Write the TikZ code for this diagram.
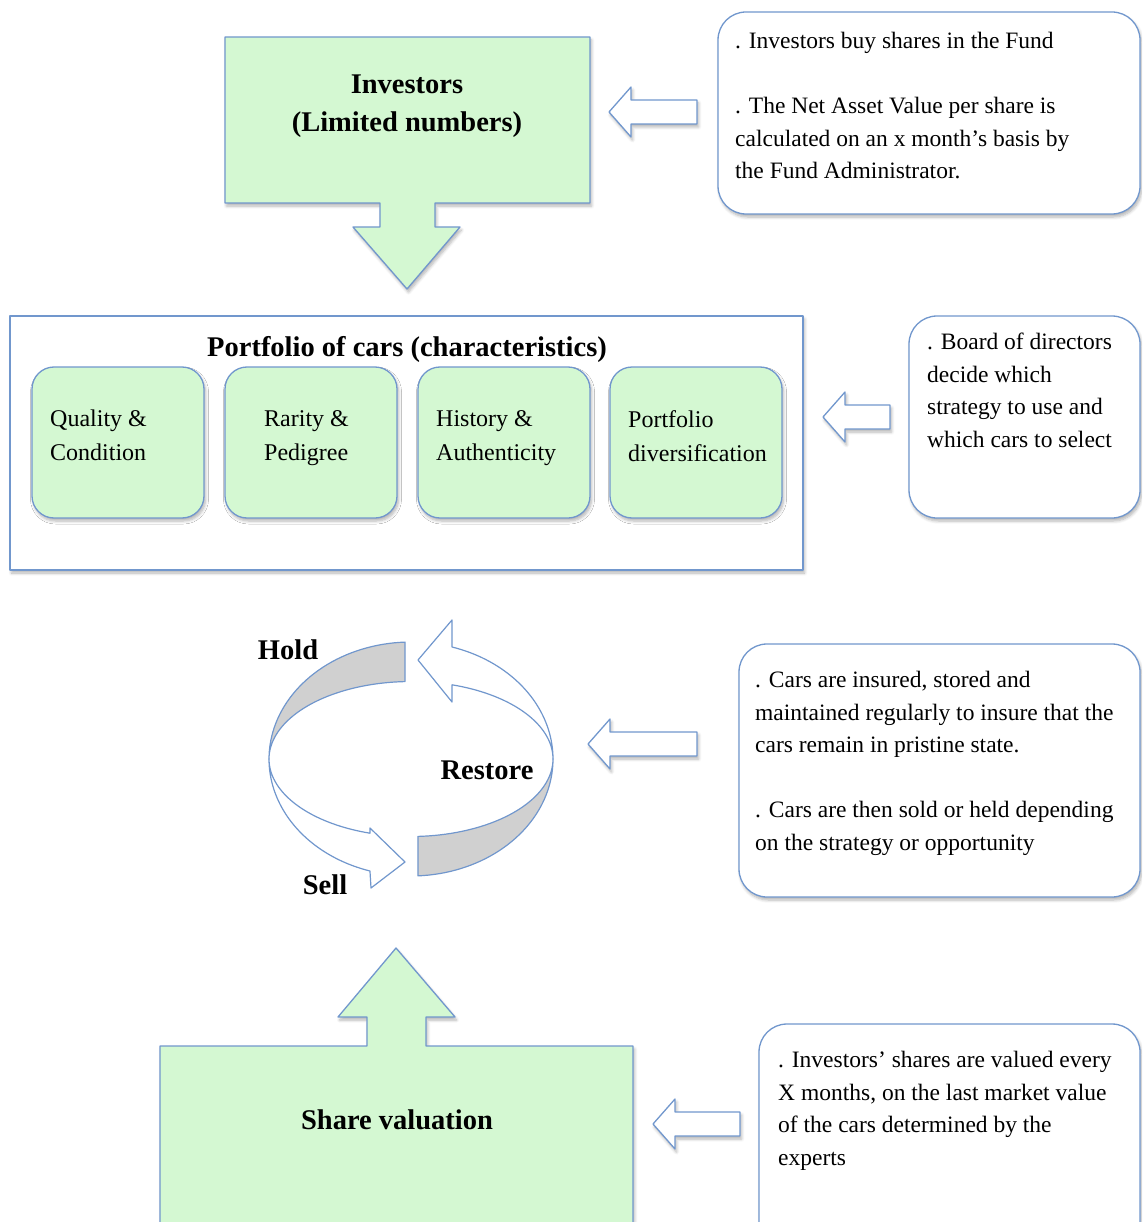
\documentclass[tikz,border=0pt]{standalone}
\usepackage{fontspec}
\setmainfont{Liberation Serif}
\usetikzlibrary{shadows.blur}

\definecolor{mint}{RGB}{212,248,210}
\definecolor{edge}{RGB}{113,151,205}
\definecolor{band}{RGB}{208,208,208}

\tikzset{
  softshadow/.style={blur shadow={shadow xshift=1.5pt, shadow yshift=-3pt, shadow blur steps=6, shadow blur radius=3pt, shadow opacity=30}},
  greenshape/.style={draw=edge, fill=mint, line width=1.3pt},
  frame/.style={draw=edge, fill=white, line width=1.3pt, softshadow},
  carbox/.style={draw=edge, fill=mint, line width=1.3pt, rounded corners=22pt, softshadow},
  callout/.style={draw=edge, fill=white, line width=1.3pt, rounded corners=28pt, softshadow},
  ring/.style={draw=edge, line width=1.2pt},
  head/.style={font=\fontsize{28.5}{38}\selectfont\bfseries, align=center, inner sep=0pt},
  note/.style={font=\fontsize{23.5}{32.5}\selectfont, align=left, anchor=north west, inner sep=0pt},
  cartext/.style={font=\fontsize{24}{34}\selectfont, align=left, anchor=north west, inner sep=0pt},
  hollow/.pic={
    \draw[draw=edge, fill=white, line width=1.3pt, softshadow]
      (0,0) -- (22,-25) -- (22,-12) -- (#1,-12) -- (#1,12) -- (22,12) -- (22,25) -- cycle;
  }
}

\begin{document}
\begin{tikzpicture}[x=1pt, y=-1pt, line join=round]
\useasboundingbox (0,0) rectangle (1142,1222);
\clip (0,0) rectangle (1142,1222);

%%%%%%%%%%%% Investors
\draw[greenshape, softshadow] (225,37) -- (590,37) -- (590,203) -- (435,203) -- (435,227)
  -- (460,227) -- (407,289) -- (353,227) -- (380,227) -- (380,203) -- (225,203) -- cycle;
\node[head] (investors) at (407,106) {Investors\\(Limited numbers)};

\pic at (609,112) {hollow=88};
\draw[callout] (718,12) rectangle (1140,214);
\node[note] (noteinv) at (735,32) {. Investors buy shares in the Fund\\[32.5pt]
  . The Net Asset Value per share is\\calculated on an x month’s basis by\\the Fund Administrator.};

%%%%%%%%%%%% Portfolio
\draw[frame] (10,316) rectangle (803,570);
\node[head] (portfolio) at (407,349) {Portfolio of cars (characteristics)};
\foreach \n/\x/\dx/\txt in {quality/32/18/{Quality \&\\Condition},
                            rarity/225/39/{Rarity \&\\Pedigree},
                            history/418/18/{History \&\\Authenticity},
                            spread/610/18/{Portfolio\\diversification}} {
  \draw[carbox] (\x,367) rectangle +(172,151);
  \node[cartext] (\n) at (\x+\dx,410) {\txt};
}

\pic at (823,417) {hollow=67};
\draw[callout] (909,316) rectangle (1140,518);
\node[note] (noteboard) at (927,333) {. Board of directors\\decide which\\strategy to use and\\which cars to select};

%%%%%%%%%%%% Hold / Restore / Sell
\filldraw[ring, fill=band] plot[domain=180:92.4, samples=40] ({411+142*cos(\x)}, {759-117*sin(\x)})
  -- plot[domain=92.4:180, samples=40] ({411+142*cos(\x)}, {759-77.5*sin(\x)}) -- cycle;
\filldraw[ring, fill=white] plot[domain=0:73.2, samples=40] ({411+142*cos(\x)}, {759-117*sin(\x)})
  -- (452,620) -- (418,660) -- (452,702)
  -- plot[domain=73.2:0, samples=40] ({411+142*cos(\x)}, {759-77.5*sin(\x)}) -- cycle;
\filldraw[ring, fill=band] plot[domain=0:-87.2, samples=40] ({411+142*cos(\x)}, {759-117*sin(\x)})
  -- plot[domain=-87.2:0, samples=40] ({411+142*cos(\x)}, {759-77.5*sin(\x)}) -- cycle;
\filldraw[ring, fill=white] plot[domain=180:253.2, samples=40] ({411+142*cos(\x)}, {759-77.5*sin(\x)})
  -- (370,828) -- (405,862) -- (371,888)
  -- plot[domain=253.2:180, samples=40] ({411+142*cos(\x)}, {759-117*sin(\x)}) -- cycle;
\node[head] (hold) at (288,650) {Hold};
\node[head] (restore) at (487,770) {Restore};
\node[head] (sell) at (325,885) {Sell};

\pic at (588,744) {hollow=109};
\draw[callout] (739,644) rectangle (1140,897);
\node[note] (notecars) at (755,671) {. Cars are insured, stored and\\maintained regularly to insure that the\\cars remain in pristine state.\\[32.5pt]
  . Cars are then sold or held depending\\on the strategy or opportunity};

%%%%%%%%%%%% Share valuation
\draw[greenshape, softshadow] (160,1260) -- (160,1046) -- (367,1046) -- (367,1017) -- (338,1017)
  -- (396,948) -- (455,1017) -- (426,1017) -- (426,1046) -- (633,1046) -- (633,1260) -- cycle;
\node[head] (valuation) at (397,1120) {Share valuation};

\pic at (653,1124) {hollow=87};
\draw[callout] (759,1024) rectangle (1140,1270);
\node[note] (noteshares) at (778,1051) {. Investors’ shares are valued every\\X months, on the last market value\\of the cars determined by the\\experts};
\end{tikzpicture}
\end{document}
